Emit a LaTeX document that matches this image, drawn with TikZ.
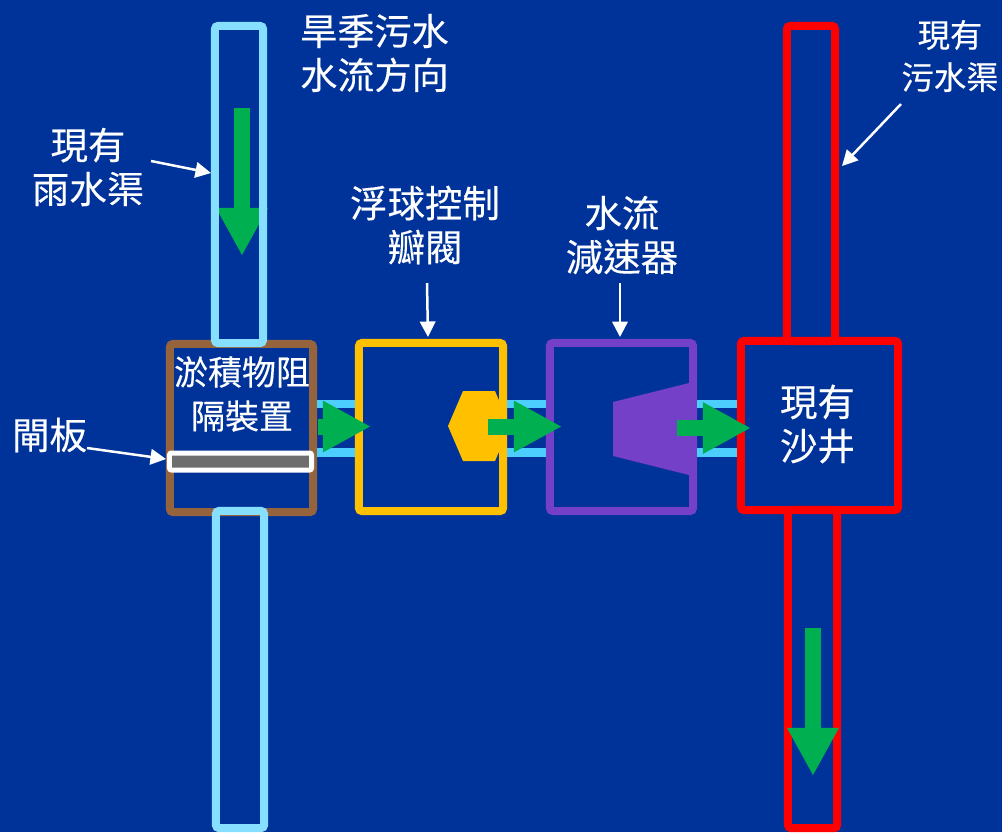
\documentclass[tikz,border=0pt]{standalone}
\usepackage{fontspec}
\setmainfont[FakeBold=0.25]{Noto Sans CJK TC}
\usetikzlibrary{arrows.meta}
\definecolor{bgblue}{HTML}{003399}
\definecolor{rainblue}{HTML}{87DFFF}
\definecolor{stubblue}{HTML}{4CCFFF}
\definecolor{siltbrown}{HTML}{96643C}
\definecolor{valveyellow}{HTML}{FFC000}
\definecolor{slowpurple}{HTML}{7540C8}
\definecolor{flowgreen}{HTML}{00B050}
\definecolor{gategray}{HTML}{6E6E6E}
\tikzset{
  boxnode/.style={draw, rectangle, rounded corners=0.03cm, inner sep=0pt, outer sep=0pt, line width=0.08cm},
  labeltext/.style={text=white, align=center, inner sep=0pt, font=\fontsize{10.65}{12.5}\selectfont},
  flowline/.style={-{Triangle[length=0.48cm, width=0.48cm]}, flowgreen, line width=0.16cm},
  stubline/.style={stubblue, line width=0.085cm, shorten >=0.04cm, shorten <=0.04cm},
  noteline/.style={-{Triangle[length=0.155cm, width=0.155cm]}, white, line width=0.025cm},
}
\begin{document}
\begin{tikzpicture}[x=0.01cm, y=-0.01cm]
\useasboundingbox[fill=bgblue] (0,0) rectangle (1002,832);

% Caixas
\node[boxnode, draw=siltbrown, minimum width=1.43cm, minimum height=1.68cm] (silt) at (241.5,428) {};
\node[boxnode, draw=valveyellow, minimum width=1.44cm, minimum height=1.68cm] (valve) at (431,427) {};
\node[boxnode, draw=slowpurple, minimum width=1.43cm, minimum height=1.68cm] (slow) at (621.5,427) {};
\node[boxnode, draw=red, minimum width=1.57cm, minimum height=1.69cm] (well) at (819.5,425.5) {};

% Tubos
\coordinate (stubup) at (0,404);
\coordinate (stubdown) at (0,452.5);
\draw[stubline] (silt.east |- stubup) -- (valve.west |- stubup);
\draw[stubline] (silt.east |- stubdown) -- (valve.west |- stubdown);
\draw[stubline] (valve.east |- stubup) -- (slow.west |- stubup);
\draw[stubline] (valve.east |- stubdown) -- (slow.west |- stubdown);
\draw[stubline] (slow.east |- stubup) -- (well.west |- stubup);
\draw[stubline] (slow.east |- stubdown) -- (well.west |- stubdown);

% Seta do ramal da chuva
\coordinate (rainstart) at (242,108);
\coordinate (rainend) at (242,256);
\draw[flowline] (rainstart) -- (rainend);

% Canais
\node[boxnode, draw=rainblue, minimum width=0.48cm, minimum height=3.17cm] (raintop) at (239,184.5) {};
\node[boxnode, draw=rainblue, minimum width=0.48cm, minimum height=3.17cm] (rainlow) at (240,669.5) {};
\node[boxnode, draw=red, minimum width=0.48cm, minimum height=3.15cm] (sewertop) at (811,183.5) {};
\node[boxnode, draw=red, minimum width=0.49cm, minimum height=3.18cm] (sewerlow) at (812.5,669) {};

% Comporta, boia e redutor
\node[draw=white, fill=gategray, rectangle, rounded corners=0.02cm, line width=0.05cm, inner sep=0pt, outer sep=0pt, minimum width=1.42cm, minimum height=0.17cm] (gate) at (240.5,461.5) {};
\fill[valveyellow] (448,426) -- (463,391) -- (495,391) -- (510,426) -- (495,461) -- (463,461) -- cycle;
\fill[slowpurple] (613,402) -- (693,382) -- (693,476) -- (613,456) -- cycle;

% Setas de fluxo
\coordinate (flowa) at (318,426.5);
\coordinate (flowb) at (371,426.5);
\coordinate (flowc) at (488,426.5);
\coordinate (flowd) at (562,426.5);
\coordinate (flowe) at (677,428);
\coordinate (flowf) at (751,428);
\coordinate (sewerstart) at (813,628);
\coordinate (sewerend) at (813,776);
\draw[flowline] (flowa) -- (flowb);
\draw[flowline] (flowc) -- (flowd);
\draw[flowline] (flowe) -- (flowf);
\draw[flowline] (sewerstart) -- (sewerend);

% Textos
\node[labeltext, font=\fontsize{10.55}{12.5}\selectfont] (drylab) at (374.5,53) {旱季污水\\水流方向};
\node[labeltext] (rainlab) at (88,167) {現有\\雨水渠};
\node[labeltext] (valvelab) at (425,225) {浮球控制\\瓣閥};
\node[labeltext] (slowlab) at (622,235) {水流\\減速器};
\node[labeltext, font=\fontsize{9.2}{12}\selectfont] (sewerlab) at (950,56) {現有\\污水渠};
\node[labeltext, font=\fontsize{9.65}{12.5}\selectfont] (siltlab) at (242,394) {淤積物阻\\隔裝置};
\node[labeltext] (gatelab) at (49.5,435) {閘板};
\node[labeltext] (welllab) at (817.5,424) {現有\\沙井};

% Setas dos rotulos
\coordinate (rainfoot) at (151,161);
\coordinate (rainhit) at (211,173);
\coordinate (sewerfoot) at (901,104);
\coordinate (sewerhit) at (842,166);
\coordinate (valvefoot) at (427,283);
\coordinate (valvehit) at (428,337);
\coordinate (slowfoot) at (620,283);
\coordinate (slowhit) at (620,337);
\coordinate (gatefoot) at (87,448);
\coordinate (gatehit) at (166,459);
\draw[noteline] (rainfoot) -- (rainhit);
\draw[noteline] (sewerfoot) -- (sewerhit);
\draw[noteline] (valvefoot) -- (valvehit);
\draw[noteline] (slowfoot) -- (slowhit);
\draw[noteline] (gatefoot) -- (gatehit);
\end{tikzpicture}
\end{document}
